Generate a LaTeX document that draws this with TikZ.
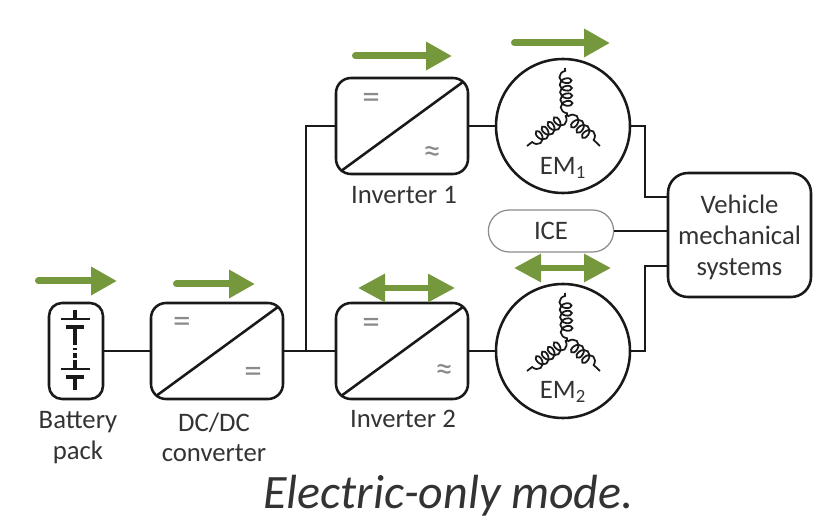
\documentclass[tikz,border=0pt]{standalone}
\usepackage{fontspec}
\setmainfont{Carlito}
\usetikzlibrary{arrows.meta,shapes.misc,decorations.pathmorphing}
\definecolor{flowgreen}{HTML}{76983C}
\definecolor{labelgray}{HTML}{333333}
\definecolor{markgray}{HTML}{8A8A8A}
\tikzset{
    wire/.style={line width=1.45pt, black!90},
    block/.style={draw, wire, rectangle, rounded corners=0.3cm, inner sep=0pt},
    conv/.style={block, minimum width=2.64cm, minimum height=1.92cm},
    machine/.style={draw, wire, circle, minimum size=2.68cm, inner sep=0pt},
    txt/.style={text=labelgray, font=\fontsize{15.2}{17.8}\selectfont, align=center},
    convmark/.style={text=markgray, font=\fontsize{20}{20}\selectfont, inner sep=0pt},
    coilwire/.style={line width=1pt, black!90, decorate, decoration={coil, aspect=0.7, segment length=4.3pt, amplitude=3.4pt, pre length=1pt, post length=1pt}},
    flowone/.style={line width=0.14cm, flowgreen, line cap=round, -{Triangle[length=0.52cm,width=0.54cm]}},
    flowtwo/.style={line width=0.12cm, flowgreen, {Triangle[length=0.54cm,width=0.54cm]}-{Triangle[length=0.54cm,width=0.54cm]}}
}
\begin{document}
\begin{tikzpicture}
    \useasboundingbox (0,0) rectangle (16.54,10.42);
    % Blocks
    \node[block, rounded corners=0.26cm, minimum width=1.08cm, minimum height=1.92cm] (bat) at (1.52,3.40) {};
    \node[conv] (dc) at (4.34,3.40) {};
    \node[conv] (inv1) at (8.04,7.90) {};
    \node[conv] (inv2) at (8.04,3.40) {};
    \node[machine] (em1) at (11.26,7.90) {};
    \node[machine] (em2) at (11.26,3.40) {};
    \node[block, rounded corners=0.4cm, minimum width=2.86cm, minimum height=2.48cm] (veh) at (14.79,5.72) {};
    \node[draw=black!45, line width=0.7pt, rounded rectangle, minimum width=2.74cm, minimum height=0.84cm, txt] (ice) at (11.02,5.80) {ICE};
    % Wires
    \coordinate (jn) at (6.12,3.40);
    \coordinate (bend1) at (12.90,7.90);
    \coordinate (bend2) at (12.90,3.40);
    \coordinate (veh1) at (13.36,6.48);
    \coordinate (veh2) at (13.36,5.10);
    \draw[wire] (bat.east) -- (dc.west);
    \draw[wire] (dc.east) -- (inv2.west);
    \draw[wire] (jn) |- (inv1.west);
    \draw[wire] (inv1.east) -- (em1.west);
    \draw[wire] (inv2.east) -- (em2.west);
    \draw[wire] (em1.east) -- (bend1) |- (veh1);
    \draw[wire] (em2.east) -- (bend2) |- (veh2);
    \draw[wire, line width=1pt] (ice.east) -- (veh.west |- ice.east);
    % Converter diagonals
    \foreach \c in {dc,inv1,inv2}
        \draw[wire] ([shift={(0.12,0.08)}]\c.south west) -- ([shift={(-0.12,-0.1)}]\c.north east);
    % Windings
    \foreach \m in {em1,em2} {
        \begin{scope}[shift={(\m)}]
            \coordinate (\m c) at (0.08,0.22);
            \coordinate (\m t) at (0.04,1.16);
            \coordinate (\m l) at (-0.72,-0.40);
            \coordinate (\m r) at (0.74,-0.40);
        \end{scope}
        \draw[coilwire] (\m c) -- (\m t);
        \draw[coilwire] (\m c) -- (\m l);
        \draw[coilwire] (\m c) -- (\m r);
    }
    % Battery
    \coordinate (cella) at (1.50,3.96);
    \coordinate (cellb) at (1.50,2.96);
    \foreach \b in {cella,cellb} {
        \draw[wire, line width=1.6pt] ([yshift=0.08cm]\b) ++(-0.29,0) -- ++(0.58,0);
        \draw[wire, line width=2.4pt] ([yshift=-0.08cm]\b) ++(-0.18,0) -- ++(0.36,0);
    }
    \draw[wire, line width=1.8pt] (1.50,4.22) -- (1.50,4.04);
    \draw[wire, line width=1.8pt] (1.50,3.88) -- (1.50,3.62);
    \draw[wire, line width=1.8pt, dash pattern=on 3pt off 1.6pt on 1.2pt off 1.6pt] (1.50,3.62) -- (1.50,3.22);
    \draw[wire, line width=1.8pt] (1.50,3.22) -- (1.50,3.04);
    \draw[wire, line width=1.8pt] (1.50,2.88) -- (1.50,2.62);
    % Marks
    \node[convmark] (m1) at (3.64,3.92) {=};
    \node[convmark] (m2) at (5.06,2.92) {=};
    \node[convmark] (m3) at (7.42,8.40) {=};
    \node[convmark] (m4) at (8.64,7.32) {≈};
    \node[convmark] (m5) at (7.42,3.90) {=};
    \node[convmark] (m6) at (8.88,2.96) {≈};
    % Labels
    \node[txt] (lbat) at (1.56,1.67) {Battery\\[-0.6pt]pack};
    \node[txt] (ldc) at (4.28,1.67) {DC/DC\\[-0.6pt]converter};
    \node[txt] (linv1) at (8.08,6.52) {Inverter 1};
    \node[txt] (linv2) at (8.06,2.04) {Inverter 2};
    \node[txt] (lem1) at (11.26,7.06) {EM\textsubscript{1}};
    \node[txt] (lem2) at (11.26,2.58) {EM\textsubscript{2}};
    \node[txt] (lveh) at (14.79,5.67) {Vehicle\\mechanical\\systems};
    \node[text=labelgray, font=\fontsize{27.3}{30}\selectfont\itshape, inner sep=0pt, anchor=base] (title) at (8.97,0.26) {Electric-only mode.};
    % Power flow
    \foreach \n/\xa/\xb/\y in {fa/0.77/2.34/4.80, fb/3.53/5.10/4.74, fc/7.11/9.04/9.30, fd/10.29/12.20/9.56} {
        \coordinate (\n s) at (\xa,\y);
        \coordinate (\n e) at (\xb,\y);
        \draw[flowone] (\n s) -- (\n e);
    }
    \foreach \n/\xa/\xb/\y in {fe/7.16/9.10/4.66, ff/10.28/12.22/5.06} {
        \coordinate (\n s) at (\xa,\y);
        \coordinate (\n e) at (\xb,\y);
        \draw[flowtwo] (\n s) -- (\n e);
    }
\end{tikzpicture}
\end{document}
